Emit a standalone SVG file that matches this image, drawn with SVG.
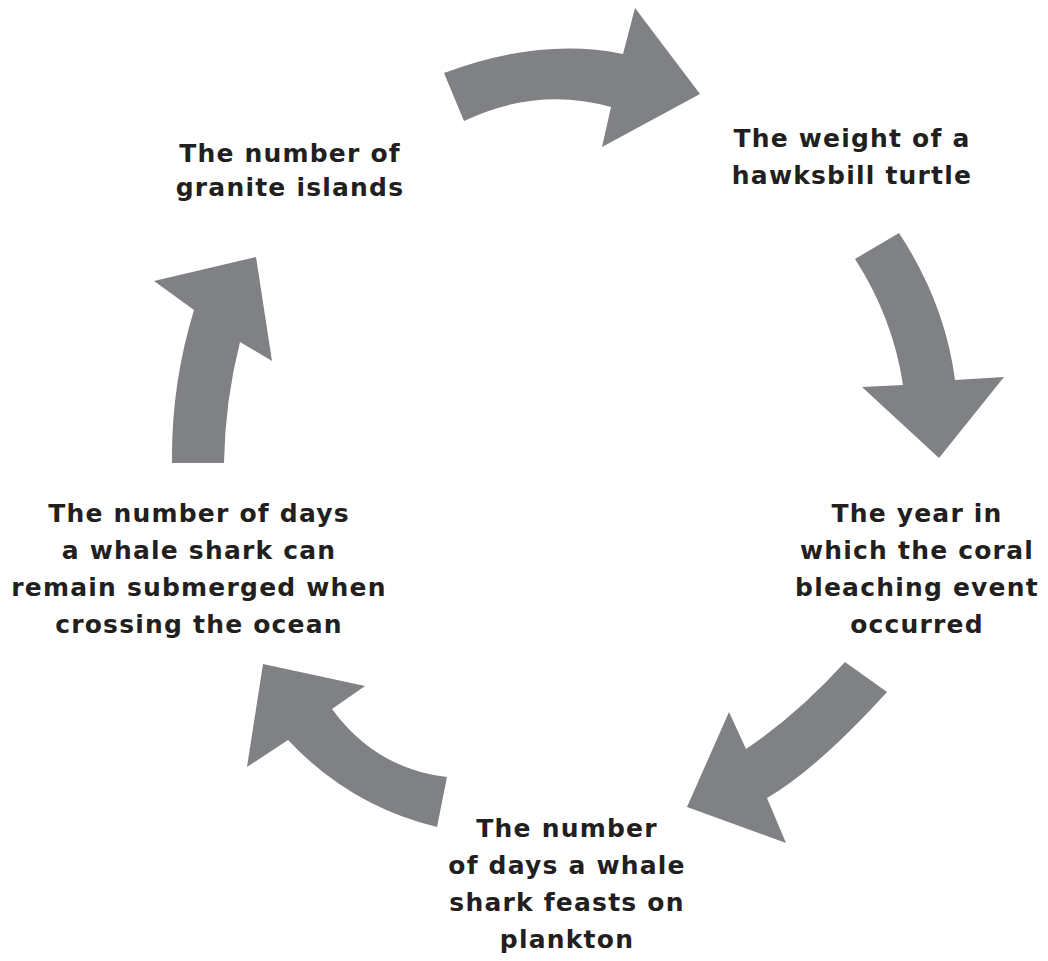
<svg xmlns="http://www.w3.org/2000/svg" width="1048" height="961" viewBox="0 0 1048 961">
<style>
.arrow{fill:#808184;stroke:none}
.lbl{font-family:"DejaVu Sans",sans-serif;font-weight:bold;font-size:25px;fill:#231f20;text-anchor:middle;letter-spacing:1.2px}
</style>
<rect width="1048" height="961" fill="#ffffff"/>
<g id="connectors">
<path id="arrow1" class="arrow" d="M444,73 Q540,37 623,54 L635,8 L700,94 L602,147 L611,107 Q538,86 464,121 Z"/>
<path id="arrow2" class="arrow" d="M855,259 L899,233 Q945,303 955,380 L1004,377 L939,458 L862,387 L903,385 Q893,318 855,259 Z"/>
<path id="arrow3" class="arrow" d="M845,662 L887,692 Q817,769 767,798 L786,843 L687,807 L729,712 L746,749 Q798,714 845,662 Z"/>
<path id="arrow4" class="arrow" d="M447,777 L437,827 Q350,806 288,740 L247,767 L263,664 L365,686 L332,709 Q376,769 447,777 Z"/>
<path id="arrow5" class="arrow" d="M172,463 L224,463 Q225,401 240,342 L272,361 L256,257 L154,281 L194,310 Q171,385 172,463 Z"/>
</g>
<g id="node1">
<text class="lbl" x="290" y="162">The number of</text>
<text class="lbl" x="290" y="196">granite islands</text>
</g>
<g id="node2">
<text class="lbl" x="852" y="147">The weight of a</text>
<text class="lbl" x="852" y="184">hawksbill turtle</text>
</g>
<g id="node3">
<text class="lbl" x="917" y="522">The year in</text>
<text class="lbl" x="917" y="559">which the coral</text>
<text class="lbl" x="917" y="596">bleaching event</text>
<text class="lbl" x="917" y="633">occurred</text>
</g>
<g id="node4">
<text class="lbl" x="567" y="837">The number</text>
<text class="lbl" x="567" y="874">of days a whale</text>
<text class="lbl" x="567" y="911">shark feasts on</text>
<text class="lbl" x="567" y="948">plankton</text>
</g>
<g id="node5">
<text class="lbl" x="199" y="522">The number of days</text>
<text class="lbl" x="199" y="559">a whale shark can</text>
<text class="lbl" x="199" y="596">remain submerged when</text>
<text class="lbl" x="199" y="633">crossing the ocean</text>
</g>
</svg>
